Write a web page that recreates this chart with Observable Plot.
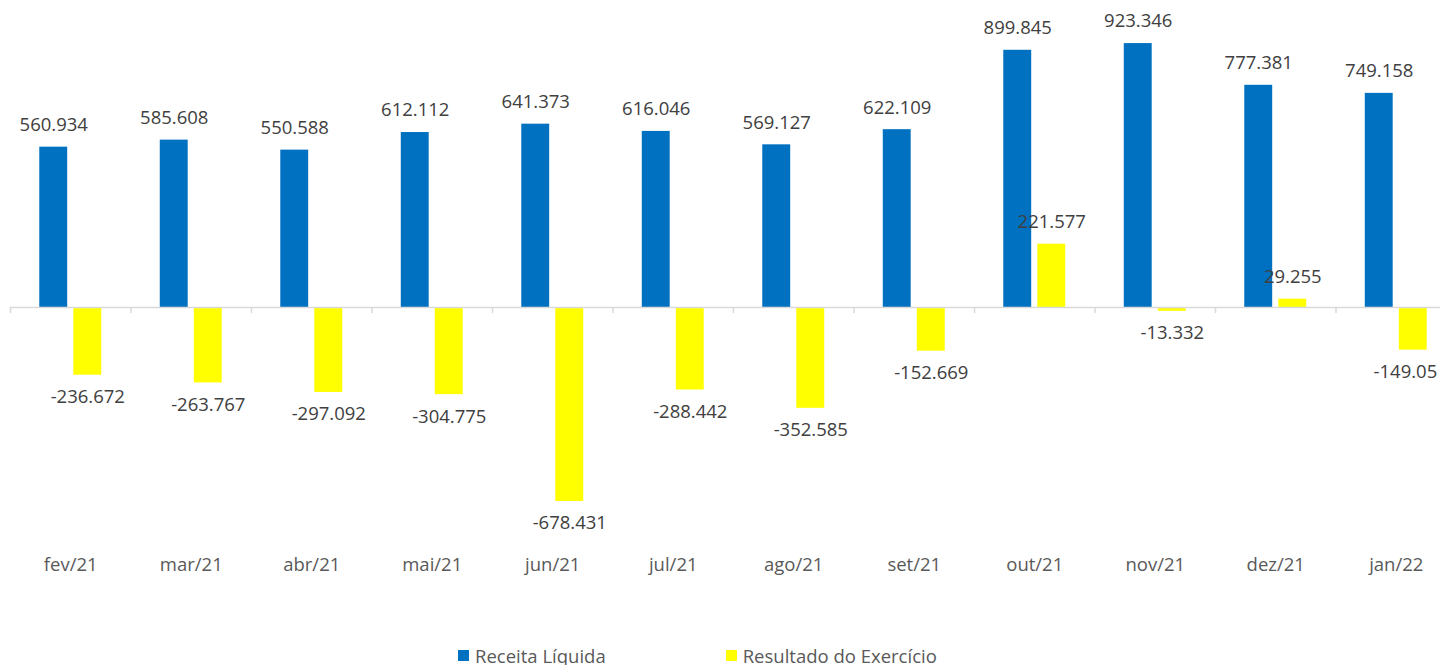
<!DOCTYPE html>
<html>
<head>
<meta charset="utf-8">
<script src="https://cdn.jsdelivr.net/npm/d3@7"></script>
<script src="https://cdn.jsdelivr.net/npm/@observablehq/plot@0.6"></script>
<style>
  html, body { margin: 0; padding: 0; background: #fff; overflow: hidden; }
  #chart svg { max-width: none !important; display: block; }
  .legend { display: flex; align-items: center; padding-left: 458px; margin-top: 44px;
            font-family: "Open Sans", sans-serif; font-size: 18.5px; color: #595959; height: 22px; }
  .legend .item { display: flex; align-items: center; }
  .legend .sw { width: 11px; height: 11px; margin-right: 6px; }
</style>
</head>
<body>
<div id="chart"></div>
<div class="legend" id="legend"></div>
<script>
const months = ["fev/21","mar/21","abr/21","mai/21","jun/21","jul/21","ago/21","set/21","out/21","nov/21","dez/21","jan/22"];
const receita = [560.934, 585.608, 550.588, 612.112, 641.373, 616.046, 569.127, 622.109, 899.845, 923.346, 777.381, 749.158];
const resultado = [-236.672, -263.767, -297.092, -304.775, -678.431, -288.442, -352.585, -152.669, 221.577, -13.332, 29.255, -149.05];
const seriesNames = ["Receita Líquida", "Resultado do Exercício"];
const seriesColors = ["#0070C0", "#FFFF00"];

const data = months.flatMap((m, i) => [
  {month: m, series: seriesNames[0], value: receita[i]},
  {month: m, series: seriesNames[1], value: resultado[i]}
]);
const lastMonth = months[months.length - 1];
const labelStyle = {fx: "month", x: "series", y: "value", text: d => String(d.value),
  lineAnchor: "middle", fill: "#404040", fontSize: 18.5};

const chart = Plot.plot({
  width: 1456,
  height: 600,
  marginLeft: 10,
  marginRight: 0,
  marginTop: 0,
  marginBottom: 70,
  style: {fontFamily: "'Open Sans', sans-serif", fontSize: "18.5px", color: "#595959", background: "#fff"},
  fx: {domain: months, padding: 0, round: false, label: null, tickSize: 0, tickPadding: 27},
  x: {domain: seriesNames, axis: null, paddingInner: 0.18, paddingOuter: 0.86, round: false},
  y: {domain: [-780, 1074], axis: null},
  color: {domain: seriesNames, range: seriesColors},
  marks: [
    Plot.barY(data, {fx: "month", x: "series", y: "value", fill: "series"}),
    Plot.ruleY([0], {stroke: "#D9D9D9", strokeWidth: 1.5}),
    Plot.ruleX(months, {fx: d => d, x: null, y1: 0, y2: 0, insetBottom: -6, dx: -60.25, stroke: "#D9D9D9", strokeWidth: 1.5}),
    Plot.text(data.filter(d => d.value >= 0), {...labelStyle, dy: -22}),
    Plot.text(data.filter(d => d.value < 0 && d.month !== lastMonth), {...labelStyle, dy: 22}),
    Plot.text(data.filter(d => d.value < 0 && d.month === lastMonth), {...labelStyle, dy: 22, textAnchor: "end", dx: 24})
  ]
});
document.getElementById("chart").appendChild(chart);

const legend = document.getElementById("legend");
seriesNames.forEach((name, i) => {
  const item = document.createElement("div");
  item.className = "item";
  if (i > 0) item.style.marginLeft = "120px";
  const sw = document.createElement("span");
  sw.className = "sw";
  sw.style.background = seriesColors[i];
  const label = document.createElement("span");
  label.textContent = name;
  item.appendChild(sw);
  item.appendChild(label);
  legend.appendChild(item);
});
</script>
</body>
</html>
